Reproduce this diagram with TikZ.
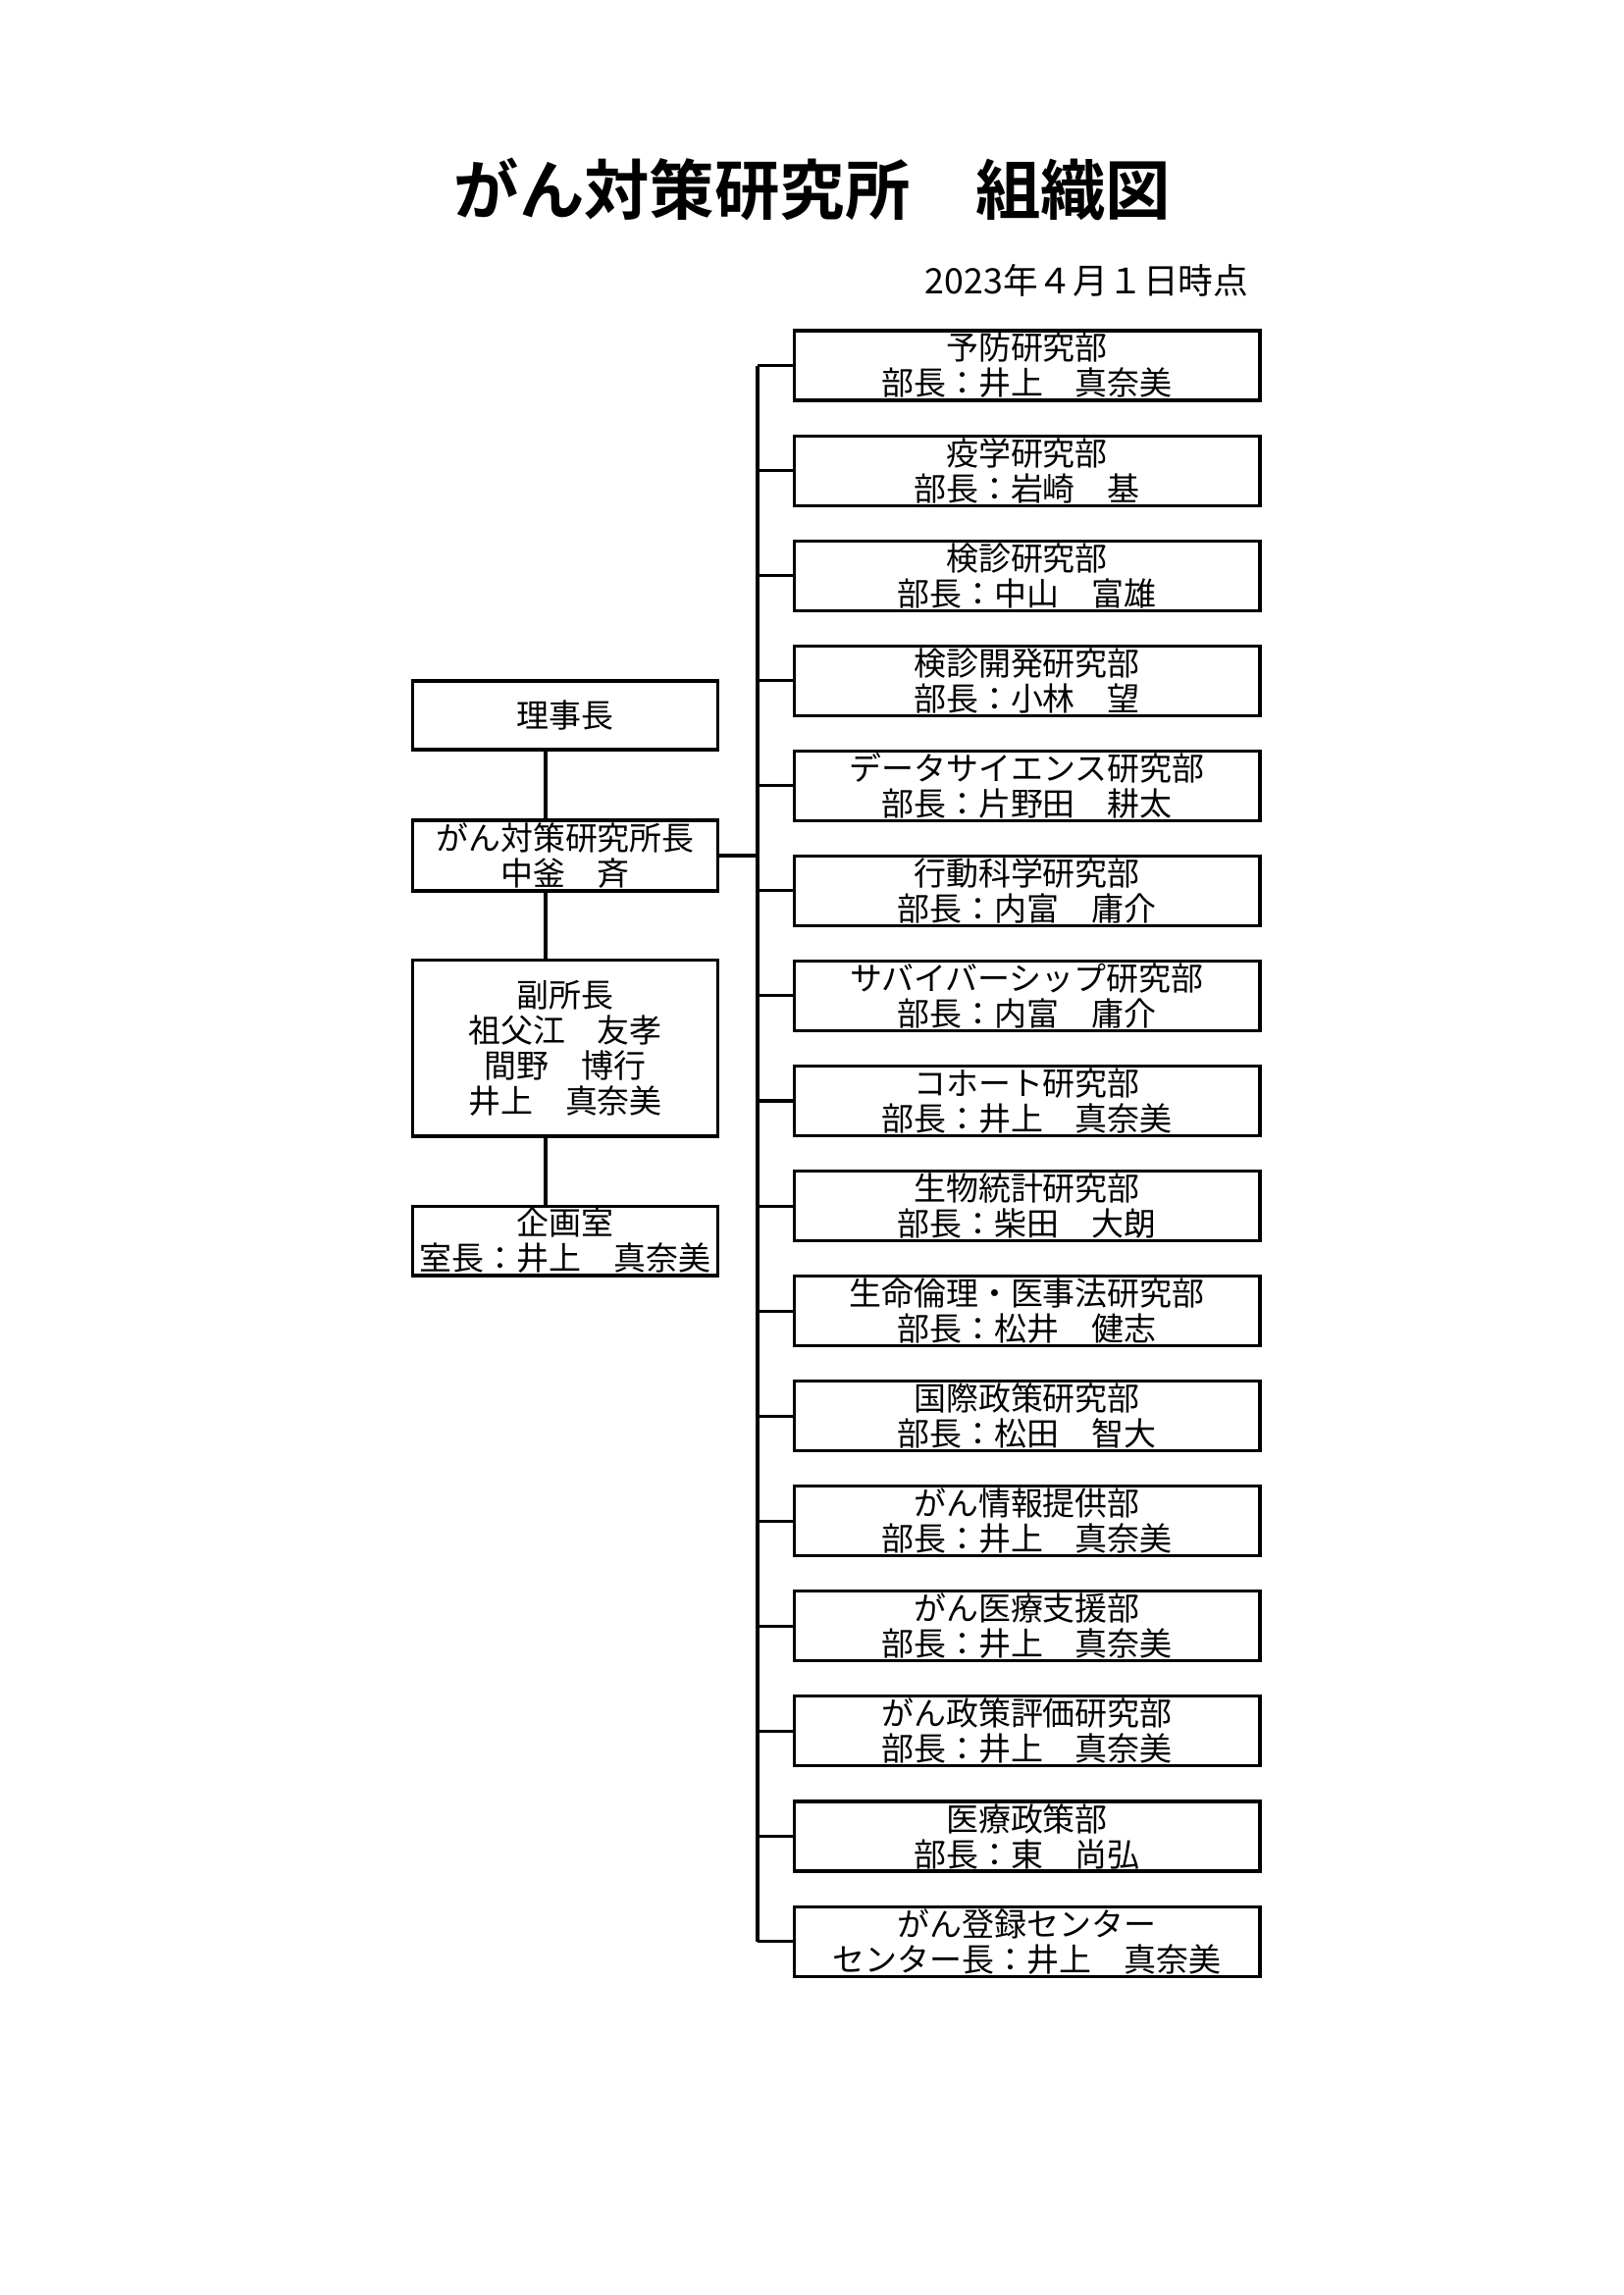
\documentclass[tikz,border=0pt]{standalone}
\usepackage{fontspec}
\setmainfont{Noto Sans CJK JP}
\newfontfamily\jpbold{Noto Sans CJK JP Bold}
\usetikzlibrary{positioning,calc}
\definecolor{ink}{HTML}{000000}
\tikzset{
  orgbox/.style={draw=ink,line width=1.1pt,inner sep=0pt,align=center,
                 text=ink,font=\fontsize{11.9}{13}\selectfont},
  leftbox/.style={orgbox,minimum width=39.6mm},
  deptbox/.style={orgbox,minimum width=60.3mm,minimum height=9.01mm},
  link/.style={draw=ink,line width=1.1pt}
}
\begin{document}
\begin{tikzpicture}[x=0.12697mm,y=-0.12697mm]
  \useasboundingbox (0,0) rectangle (1654,2339);

  \node[text=ink,font=\jpbold\fontsize{24}{26}\selectfont] (title) at (828,193)
       {がん対策研究所　組織図};
  \node[text=ink,font=\fontsize{12.9}{14}\selectfont,anchor=east] (date) at (1282,286)
       {2023年４月１日時点};

  % left column
  \node[leftbox,minimum height=8.89mm] (chair) at (576,729) {理事長};
  \node[leftbox,minimum height=9.14mm] (head) at (576,872)
       {がん対策研究所長\\中釜　斉};
  \node[leftbox,minimum height=22.85mm] (deputy) at (576,1068)
       {副所長\\祖父江　友孝\\間野　博行\\井上　真奈美};
  \node[leftbox,minimum height=9.01mm] (plan) at (576,1264.5)
       {企画室\\室長：井上　真奈美};

  \coordinate (spine) at (556,0);
  \draw[link] (chair.south -| spine) -- (head.north -| spine);
  \draw[link] (head.south -| spine) -- (deputy.north -| spine);
  \draw[link] (deputy.south -| spine) -- (plan.north -| spine);

  % departments
  \foreach \dname/\dhead [count=\i from 0] in {
      予防研究部/部長：井上　真奈美,
      疫学研究部/部長：岩崎　基,
      検診研究部/部長：中山　富雄,
      検診開発研究部/部長：小林　望,
      データサイエンス研究部/部長：片野田　耕太,
      行動科学研究部/部長：内富　庸介,
      サバイバーシップ研究部/部長：内富　庸介,
      コホート研究部/部長：井上　真奈美,
      生物統計研究部/部長：柴田　大朗,
      生命倫理・医事法研究部/部長：松井　健志,
      国際政策研究部/部長：松田　智大,
      がん情報提供部/部長：井上　真奈美,
      がん医療支援部/部長：井上　真奈美,
      がん政策評価研究部/部長：井上　真奈美,
      医療政策部/部長：東　尚弘,
      がん登録センター/センター長：井上　真奈美}{%
    \node[deptbox] (dept\i) at ({1046.5},{372.5+107.07*\i}) {\dname\\\dhead};}

  \coordinate (trunk) at (772,0);
  \draw[link] (dept0.west -| trunk) -- (dept15.west -| trunk);
  \foreach \i in {0,...,15}{%
    \draw[link] (dept\i.west -| trunk) -- (dept\i.west);}
  \draw[link] (head.east) -- (head.east -| trunk);
\end{tikzpicture}
\end{document}
